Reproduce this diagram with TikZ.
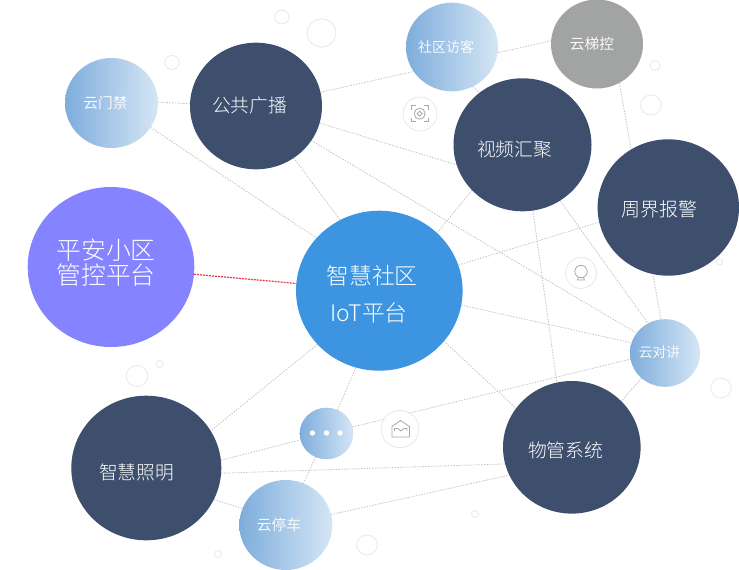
\documentclass[tikz,border=0pt]{standalone}
\usepackage{fontspec}
\setmainfont{Noto Sans CJK SC}[UprightFont=* Light]
\newfontfamily\smallcjk{Noto Sans CJK SC}[UprightFont=* DemiLight]
\usetikzlibrary{shapes.geometric}
\pgfdeclarelayer{bg}
\pgfsetlayers{bg,main}
\definecolor{dark}{HTML}{3D4F6D}
\definecolor{iot}{HTML}{3D94E0}
\definecolor{violet}{HTML}{8583FF}
\definecolor{stone}{HTML}{A2A4A3}
\definecolor{gradl}{HTML}{7EADDC}
\definecolor{gradr}{HTML}{D5E6F5}
\definecolor{ringc}{HTML}{E8E8E8}
\definecolor{linkc}{HTML}{C2C2C2}
\definecolor{redc}{HTML}{E8344A}
\definecolor{iconc}{HTML}{A8A8A8}
\tikzset{
  ball/.style={ellipse,inner sep=0pt,outer sep=0pt,draw=none},
  darkball/.style={ball,fill=dark},
  gradball/.style={ball,left color=gradl,right color=gradr},
  ring/.style={draw=ringc,line width=0.8pt,fill=white},
  link/.style={draw=linkc,line width=0.8pt,dash pattern=on 1.4pt off 1.4pt},
  redlink/.style={draw=redc,line width=1.2pt,dash pattern=on 2pt off 1pt},
  label/.style={text=white,inner sep=0pt,outer sep=0pt,align=center},
  icon/.style={draw=iconc,line width=0.8pt,fill=none},
}
\newcommand{\fsz}[1]{\fontsize{#1}{#1}\selectfont}
\begin{document}
\begin{tikzpicture}[x=1pt,y=-1pt]
\useasboundingbox (0,0) rectangle (739,570);
% decorative rings
\foreach \cx/\cy/\r in {282/17/7,321.5/33/14,172/62.5/7,655/65.5/5,651/105/10,719.5/262/3,137/376/10.5,159.7/364/3.5,218/554/3.5,367/545/10,475/514/3.5,721/388/10}{
  \draw[ring] (\cx,\cy) ellipse ({\r*1.03} and \r);
}
% balls
\node[gradball,minimum width=93pt,minimum height=90pt] (menjin) at (111.5,103) {};
\node[darkball,minimum width=132pt,minimum height=126.6pt] (guangbo) at (256,106) {};
\node[ball,fill=violet,minimum width=166.6pt,minimum height=160pt] (pingan) at (111,267) {};
\node[ball,fill=iot,minimum width=166.6pt,minimum height=160pt] (platform) at (379.3,290.7) {};
\node[gradball,minimum width=92pt,minimum height=88.6pt] (fangke) at (452,47) {};
\node[ball,fill=stone,minimum width=92pt,minimum height=89pt] (tikong) at (597,44) {};
\node[darkball,minimum width=138pt,minimum height=133pt] (shipin) at (522.5,144.8) {};
\node[darkball,minimum width=141.4pt,minimum height=136.4pt] (zhoujie) at (668.3,207.5) {};
\node[gradball,minimum width=70pt,minimum height=67.6pt] (duijiang) at (665,353) {};
\node[darkball,minimum width=137.6pt,minimum height=132.6pt] (wuguan) at (571.8,447.3) {};
\node[darkball,minimum width=150pt,minimum height=144.6pt] (zhaoming) at (146.3,468) {};
\node[gradball,minimum width=53.6pt,minimum height=51.6pt] (more) at (326.5,433.5) {};
\node[gradball,minimum width=93pt,minimum height=90pt] (tingche) at (285.8,525) {};
% connectors
\begin{pgfonlayer}{bg}
\fill[white] (0,0) rectangle (739,570);
\draw[link] (menjin.1) -- (guangbo.178);
\draw[link] (menjin.-32) -- (platform.140);
\draw[link] (guangbo.-54) -- (platform.119);
\draw[link] (guangbo.12) -- (tikong.176);
\draw[link] (guangbo.-15) -- (shipin.197);
\draw[link] (guangbo.-32) -- (duijiang.145);
\draw[link] (fangke.-62) -- (shipin.130);
\draw[link] (tikong.-60) -- (duijiang.97);
\draw[link] (shipin.222) -- (platform.45);
\draw[link] (shipin.-56) -- (duijiang.120);
\draw[link] (shipin.-81) -- (wuguan.103);
\draw[link] (zhoujie.192.5) -- (platform.18.6);
\draw[link] (platform.-10) -- (duijiang.163.6);
\draw[link] (platform.-38) -- (wuguan.145.6);
\draw[link] (platform.253) -- (more.65);
\draw[link] (platform.221.6) -- (zhaoming.30);
\draw[link] (more.14) -- (duijiang.190);
\draw[link] (zhaoming.6) -- (more.194);
\draw[link] (more.245) -- (tingche.67);
\draw[link] (zhaoming.-25) -- (tingche.159);
\draw[link] (zhaoming.-4) -- (wuguan.194);
\draw[link] (tingche.13) -- (wuguan.204);
\draw[link] (duijiang.227) -- (wuguan.43);
\end{pgfonlayer}
\draw[redlink] (pingan.-5) -- (platform.175);
% icon rings
\node[ellipse,ring,inner sep=0pt,minimum width=34pt,minimum height=34pt] (scanring) at (420,114) {};
\node[ellipse,ring,inner sep=0pt,minimum width=31pt,minimum height=31pt] (bulbring) at (581,273) {};
\node[ellipse,ring,inner sep=0pt,minimum width=38pt,minimum height=37pt] (mailring) at (400,429) {};
% scan icon
\draw[icon] (411.5,109.5) -- (411.5,105.7) -- (415.5,105.7);
\draw[icon] (424,105.7) -- (428,105.7) -- (428,109.5);
\draw[icon] (411.5,118) -- (411.5,121.5) -- (415.5,121.5);
\draw[icon] (424,121.5) -- (428,121.5) -- (428,118);
\draw[icon] (419.7,113.7) circle (5.5);
\draw[icon] (417.2,113.7) -- (419.7,111.2) -- (422.2,113.7) -- (419.7,116.2) -- cycle;
% bulb icon
\draw[icon] (581,271.5) circle (6.2);
\draw[icon] (577.5,280) -- (584.5,280) -- (583.5,277.5) -- (578.5,277.5) -- cycle;
% mail icon
\draw[icon] (392,437) -- (392,426.5) -- (400.5,420.5) -- (409.5,426.5) -- (409.5,437) -- cycle;
\draw[icon] (394.5,431) -- (394.5,428.5) -- (398,428.5) -- (401,431) -- (404,428.5) -- (407,428.5) -- (407,431);
% dots
\fill[white] (312.5,433) circle (2.7) (326.5,433) circle (2.7) (340,433) circle (2.7);
% labels
\node[label] (t1) at (105.5,103) {\smallcjk\fsz{14.7}云门禁};
\node[label] (t2) at (249.5,105) {\fsz{18.75}公共广播};
\node[label] (t3) at (106,250) {\fsz{24.8}平安小区};
\node[label] (t4) at (106,275) {\fsz{24.8}管控平台};
\node[label] (t5) at (372,276) {\fsz{22.8}智慧社区};
\node[label] (t6) at (369,313) {\fsz{22.8}IoT平台};
\node[label] (t7) at (514.5,149) {\fsz{18.75}视频汇聚};
\node[label] (t8) at (446,47) {\smallcjk\fsz{14}社区访客};
\node[label] (t9) at (592,44) {\smallcjk\fsz{14.7}云梯控};
\node[label] (t10) at (659,209) {\fsz{19}周界报警};
\node[label] (t11) at (659.5,352) {\smallcjk\fsz{13.7}云对讲};
\node[label] (t12) at (565.5,450) {\fsz{18.75}物管系统};
\node[label] (t13) at (136.5,472) {\fsz{18.75}智慧照明};
\node[label] (t14) at (279,525) {\smallcjk\fsz{14.7}云停车};
\end{tikzpicture}
\end{document}
